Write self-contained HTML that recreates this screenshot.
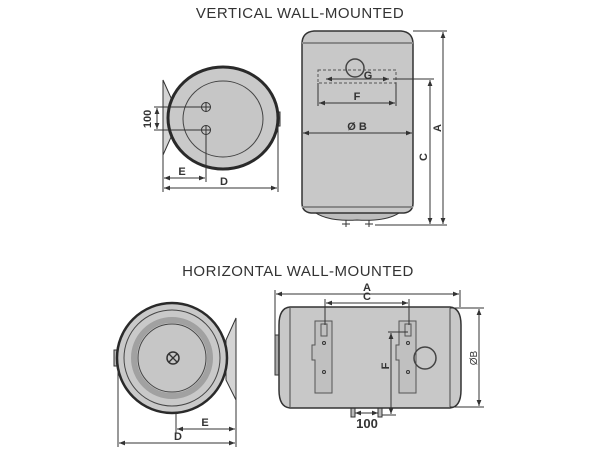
<!DOCTYPE html>
<html><head><meta charset="utf-8"><style>
html,body{margin:0;padding:0;background:#fff;width:600px;height:450px;overflow:hidden}
svg{display:block}
text{font-family:"Liberation Sans",sans-serif;fill:#333}
.b{font-weight:bold;font-size:11px}
</style></head><body>
<svg width="600" height="450" viewBox="0 0 600 450" xmlns="http://www.w3.org/2000/svg">
<defs>
<marker id="a" viewBox="0 0 10 10" refX="10" refY="5" markerWidth="6" markerHeight="6" orient="auto-start-reverse"><path d="M0,1 L10,5 L0,9 z" fill="#333"/></marker>
</defs>
<g stroke="#333" stroke-width="1" fill="none">
<text x="300" y="18" text-anchor="middle" font-size="15" stroke="none" letter-spacing="0.5">VERTICAL WALL-MOUNTED</text>
<text x="298" y="276" text-anchor="middle" font-size="15" stroke="none" letter-spacing="0.5">HORIZONTAL WALL-MOUNTED</text>

<!-- vertical side view -->
<path d="M163,80 L172,100 L172,135 L163,155 z" fill="#d4d4d4"/>
<rect x="276" y="112" width="4" height="14" fill="#bbb"/>
<ellipse cx="223" cy="118" rx="55" ry="51" fill="#c9c9c9" stroke="#2a2a2a" stroke-width="3"/>
<ellipse cx="223" cy="119" rx="40" ry="38" fill="#c6c6c6" stroke="#444"/>
<circle cx="206" cy="107" r="4.5"/><line x1="201" y1="107" x2="211" y2="107"/><line x1="206" y1="102" x2="206" y2="112"/>
<circle cx="206" cy="130" r="4.5"/><line x1="201" y1="130" x2="211" y2="130"/><line x1="206" y1="125" x2="206" y2="135"/>
<line x1="154" y1="107" x2="206" y2="107"/><line x1="154" y1="130" x2="206" y2="130"/>
<line x1="157" y1="108" x2="157" y2="129" marker-start="url(#a)" marker-end="url(#a)"/>
<text class="b" x="0" y="0" stroke="none" transform="translate(151,119) rotate(-90)" text-anchor="middle">100</text>
<line x1="163" y1="155" x2="163" y2="192"/><line x1="206" y1="130" x2="206" y2="182"/><line x1="278" y1="126" x2="278" y2="192"/>
<line x1="164" y1="178" x2="205" y2="178" marker-start="url(#a)" marker-end="url(#a)"/>
<text class="b" x="182" y="175" stroke="none" text-anchor="middle">E</text>
<line x1="164" y1="188" x2="277" y2="188" marker-start="url(#a)" marker-end="url(#a)"/>
<text class="b" x="224" y="185" stroke="none" text-anchor="middle">D</text>

<!-- vertical tank front -->
<path d="M346,218 L346,227 M342,224 L350,224 M369,218 L369,227 M365,224 L373,224" stroke="#333"/>
<path d="M312,210 Q325,222 357,220 Q390,222 403,210 z" fill="#bdbdbd"/>
<path d="M302,44 Q302,32 314,31 L401,31 Q413,32 413,44 L413,203 Q413,212 404,213 L311,213 Q302,212 302,203 z" fill="#c8c8c8" stroke="#333" stroke-width="1.5"/>
<line x1="302" y1="43" x2="413" y2="43" stroke="#888" stroke-width="2"/>
<line x1="302" y1="207" x2="413" y2="207" stroke="#888" stroke-width="2"/>
<circle cx="355" cy="68" r="9" stroke="#444" stroke-width="1.5"/>
<rect x="318" y="70" width="78" height="13" stroke-dasharray="3,2" stroke="#555"/>
<line x1="326" y1="79" x2="389" y2="79" marker-start="url(#a)" marker-end="url(#a)"/>
<text class="b" x="368" y="79" stroke="none" text-anchor="middle">G</text>
<line x1="393" y1="79" x2="434" y2="79"/>
<line x1="318" y1="83" x2="318" y2="106"/><line x1="396" y1="83" x2="396" y2="106"/>
<line x1="319" y1="103" x2="395" y2="103" marker-start="url(#a)" marker-end="url(#a)"/>
<text class="b" x="357" y="100" stroke="none" text-anchor="middle">F</text>
<line x1="303" y1="133" x2="412" y2="133" marker-start="url(#a)" marker-end="url(#a)"/>
<text class="b" x="357" y="130" stroke="none" text-anchor="middle">Ø B</text>
<line x1="413" y1="31" x2="447" y2="31"/><line x1="375" y1="225" x2="447" y2="225"/>
<line x1="443" y1="32" x2="443" y2="224" marker-start="url(#a)" marker-end="url(#a)"/>
<line x1="430" y1="80" x2="430" y2="224" marker-start="url(#a)" marker-end="url(#a)"/>
<text class="b" x="0" y="0" stroke="none" transform="translate(441,128) rotate(-90)" text-anchor="middle">A</text>
<text class="b" x="0" y="0" stroke="none" transform="translate(427,157) rotate(-90)" text-anchor="middle">C</text>

<!-- horizontal side view -->
<path d="M236,318 L226,340 L226,380 L236,400 z" fill="#d4d4d4"/>
<rect x="114" y="350" width="5" height="16" fill="#bbb"/>
<circle cx="172" cy="358" r="55" fill="#c9c9c9" stroke="#2a2a2a" stroke-width="2.5"/>
<circle cx="172" cy="358" r="48" stroke="#444"/>
<circle cx="172" cy="358" r="38" stroke="#555" stroke-width="6" stroke-opacity="0.35"/>
<circle cx="172" cy="358" r="34" fill="#c6c6c6" stroke="#444"/>
<circle cx="173" cy="358" r="6" stroke="#333" stroke-width="1.5"/>
<path d="M169,354 L177,362 M177,354 L169,362" stroke-width="1.3"/>
<line x1="118" y1="366" x2="118" y2="447"/><line x1="176" y1="413" x2="176" y2="433"/><line x1="236" y1="400" x2="236" y2="447"/>
<line x1="177" y1="429" x2="235" y2="429" marker-start="url(#a)" marker-end="url(#a)"/>
<text class="b" x="205" y="426" stroke="none" text-anchor="middle">E</text>
<line x1="119" y1="443" x2="235" y2="443" marker-start="url(#a)" marker-end="url(#a)"/>
<text class="b" x="178" y="440" stroke="none" text-anchor="middle">D</text>

<!-- horizontal tank -->
<path d="M351,406 L351,417 L355,417 L355,406 M378,406 L378,417 L382,417 L382,406" fill="#bbb"/>
<rect x="275" y="335" width="6" height="40" fill="#aaa"/>
<path d="M290,307 L450,307 Q461,308 461,325 L461,390 Q461,407 450,408 L290,408 Q279,407 279,390 L279,325 Q279,308 290,307 z" fill="#c8c8c8" stroke="#333" stroke-width="1.5"/>
<line x1="290" y1="308" x2="290" y2="407" stroke="#888" stroke-width="2"/>
<line x1="450" y1="308" x2="450" y2="407" stroke="#888" stroke-width="2"/>
<path d="M315,321 L332,321 L332,393 L315,393 L315,360 L312,360 L312,345 L315,345 z" stroke="#555" fill="#c0c0c0"/>
<path d="M399,321 L416,321 L416,393 L399,393 L399,360 L396,360 L396,345 L399,345 z" stroke="#555" fill="#c0c0c0"/>
<rect x="321" y="324" width="6" height="12" stroke="#555"/><rect x="405" y="324" width="6" height="12" stroke="#555"/>
<circle cx="324" cy="343" r="1.5"/><circle cx="324" cy="372" r="1.5"/><circle cx="408" cy="343" r="1.5"/><circle cx="408" cy="372" r="1.5"/>
<circle cx="425" cy="358" r="11" stroke="#444" stroke-width="1.5"/>
<line x1="275" y1="290" x2="275" y2="335"/><line x1="460" y1="290" x2="460" y2="307"/>
<line x1="276" y1="294" x2="459" y2="294" marker-start="url(#a)" marker-end="url(#a)"/>
<text class="b" x="367" y="291" stroke="none" text-anchor="middle">A</text>
<line x1="325" y1="299" x2="325" y2="325"/><line x1="409" y1="299" x2="409" y2="325"/>
<line x1="326" y1="303" x2="408" y2="303" marker-start="url(#a)" marker-end="url(#a)"/>
<text class="b" x="367" y="300" stroke="none" text-anchor="middle">C</text>
<line x1="450" y1="308" x2="484" y2="308"/><line x1="450" y1="407" x2="484" y2="407"/>
<line x1="479" y1="309" x2="479" y2="406" marker-start="url(#a)" marker-end="url(#a)"/>
<text x="0" y="0" font-size="10" stroke="none" transform="translate(477,358) rotate(-90)" text-anchor="middle">ØB</text>
<line x1="388" y1="332" x2="408" y2="332"/><line x1="382" y1="415" x2="396" y2="415"/>
<line x1="391" y1="333" x2="391" y2="414" marker-start="url(#a)" marker-end="url(#a)"/>
<text class="b" x="0" y="0" stroke="none" transform="translate(389,366) rotate(-90)" text-anchor="middle">F</text>
<line x1="355" y1="413" x2="378" y2="413" marker-start="url(#a)" marker-end="url(#a)"/>
<text x="367" y="428" font-size="13" font-weight="bold" stroke="none" text-anchor="middle">100</text>
</g>
</svg>
</body></html>
